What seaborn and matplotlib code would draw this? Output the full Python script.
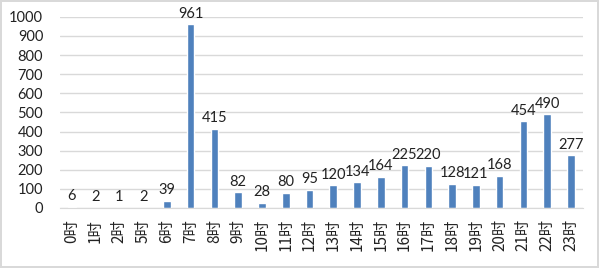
import matplotlib
matplotlib.use("Agg")
import matplotlib.pyplot as plt
import seaborn as sns
import pandas as pd

hours = ['0时', '1时', '2时', '5时', '6时', '7时', '8时', '9时', '10时', '11时', '12时',
         '13时', '14时', '15时', '16时', '17时', '18时', '19时', '20时', '21时', '22时', '23时']
counts = [6, 2, 1, 2, 39, 961, 415, 82, 28, 80, 95,
          120, 134, 164, 225, 220, 128, 121, 168, 454, 490, 277]

df = pd.DataFrame({'hour': hours, 'count': counts})

sns.set_style("white")
plt.rcParams['font.family'] = ['Lato', 'Noto Sans CJK SC']

BAR = '#4f81bd'
colors = [BAR] * len(hours)
colors[0] = '#9db5d9'

fig = plt.figure(figsize=(5.99, 2.68), dpi=100)
fig.patch.set_edgecolor('#d9d9d9')
fig.patch.set_linewidth(1.5)
ax = fig.add_axes([0.10, 0.224, 0.873, 0.713])

sns.barplot(data=df, x='hour', y='count', hue='hour', palette=colors, legend=False,
            width=0.32, ax=ax, saturation=1)

for i, v in enumerate(counts):
    ax.text(i, v + 18, str(v), ha='center', va='bottom', fontsize=10.5, color='#222222')

ax.set_ylim(0, 1000)
ax.set_yticks(range(0, 1001, 100))
ax.yaxis.grid(True, color='#d9d9d9', linewidth=1)
ax.set_axisbelow(True)
ax.set_xlim(-0.5, len(hours) - 0.5)
ax.set_xlabel('')
ax.set_ylabel('')
ax.tick_params(axis='y', labelsize=10.5, length=0, pad=12, colors='#222222')
ax.tick_params(axis='x', length=0, pad=8, colors='#222222')
ax.set_xticks(range(len(hours)))
ax.set_xticklabels(hours, rotation=90, fontsize=11, family='Noto Sans CJK SC')
for s in ['top', 'right', 'left']:
    ax.spines[s].set_visible(False)
ax.spines['bottom'].set_color('#d9d9d9')

fig.savefig('out.png', dpi=100)
